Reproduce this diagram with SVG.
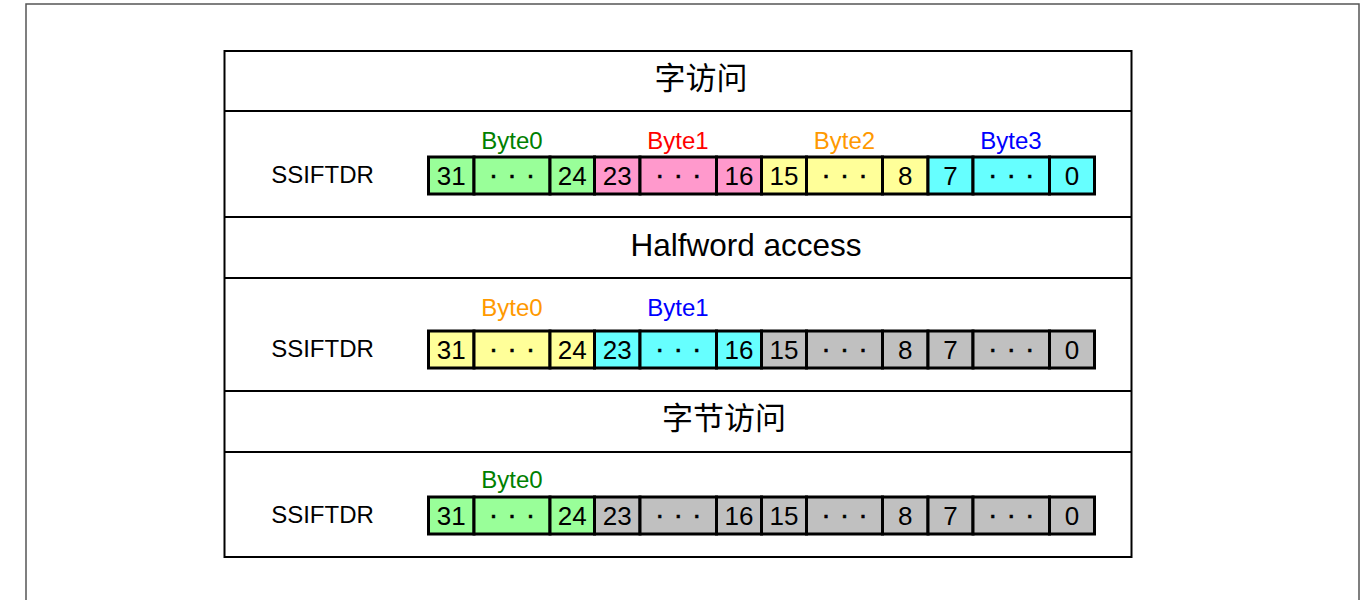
<svg xmlns="http://www.w3.org/2000/svg" width="1370" height="600" viewBox="0 0 1370 600">
<style>
text{font-family:"Liberation Sans",Arial,"Noto Sans CJK SC",sans-serif;text-anchor:middle;fill:#000}
.cell{stroke:#000;stroke-width:3}
.num{font-size:26px}
.dots{font-size:27px;letter-spacing:1px;stroke:#000;stroke-width:0.6}
.lbl{font-size:24px}
.reg{font-size:24px}
.title{font-size:31.5px}
.cjk{font-size:31px;font-family:"Noto Sans CJK SC","Liberation Sans",sans-serif}
.g{fill:#99FF99}.p{fill:#FF99CC}.y{fill:#FFFF99}.c{fill:#66FFFF}.k{fill:#C0C0C0}
</style>
<rect x="26" y="4" width="1333" height="620" fill="#fff" stroke="#555" stroke-width="1.5"/>
<g id="table">
<rect x="224.5" y="51" width="907" height="506" fill="none" stroke="#000" stroke-width="2"/>
<g stroke="#000" stroke-width="2">
<line x1="224.5" y1="111" x2="1131.5" y2="111"/>
<line x1="224.5" y1="217" x2="1131.5" y2="217"/>
<line x1="224.5" y1="278" x2="1131.5" y2="278"/>
<line x1="224.5" y1="391" x2="1131.5" y2="391"/>
<line x1="224.5" y1="452" x2="1131.5" y2="452"/>
</g>
</g>
<g id="title1"><text class="cjk" x="701" y="89">字访问</text></g>
<g id="title2"><text class="title" x="746" y="256">Halfword access</text></g>
<g id="title3"><text class="cjk" x="724" y="429">字节访问</text></g>

<g id="row1">
<text class="reg" x="322.5" y="183">SSIFTDR</text>
<text class="lbl" x="512" y="149" style="fill:#008000">Byte0</text>
<text class="lbl" x="678" y="149" style="fill:#FF0000">Byte1</text>
<text class="lbl" x="844.5" y="149" style="fill:#FF9900">Byte2</text>
<text class="lbl" x="1011" y="149" style="fill:#0000FF">Byte3</text>
<rect class="cell g" x="428.5" y="157" width="45.5" height="37"/>
<rect class="cell g" x="474" y="157" width="76" height="37"/>
<rect class="cell g" x="550" y="157" width="44.5" height="37"/>
<rect class="cell p" x="594.5" y="157" width="45.5" height="37"/>
<rect class="cell p" x="640" y="157" width="76.5" height="37"/>
<rect class="cell p" x="716.5" y="157" width="45" height="37"/>
<rect class="cell y" x="761.5" y="157" width="45" height="37"/>
<rect class="cell y" x="806.5" y="157" width="76" height="37"/>
<rect class="cell y" x="882.5" y="157" width="45.5" height="37"/>
<rect class="cell c" x="928" y="157" width="45" height="37"/>
<rect class="cell c" x="973" y="157" width="76.5" height="37"/>
<rect class="cell c" x="1049.5" y="157" width="45" height="37"/>
<text class="num" x="451.25" y="185">31</text>
<text class="dots" x="512.5" y="184">· · ·</text>
<text class="num" x="572.25" y="185">24</text>
<text class="num" x="617.25" y="185">23</text>
<text class="dots" x="678.75" y="184">· · ·</text>
<text class="num" x="739" y="185">16</text>
<text class="num" x="784" y="185">15</text>
<text class="dots" x="845" y="184">· · ·</text>
<text class="num" x="905.25" y="185">8</text>
<text class="num" x="950.5" y="185">7</text>
<text class="dots" x="1011.75" y="184">· · ·</text>
<text class="num" x="1072" y="185">0</text>
</g>

<g id="row2">
<text class="reg" x="322.5" y="357">SSIFTDR</text>
<text class="lbl" x="512" y="316" style="fill:#FF9900">Byte0</text>
<text class="lbl" x="678" y="316" style="fill:#0000FF">Byte1</text>
<rect class="cell y" x="428.5" y="331" width="45.5" height="37"/>
<rect class="cell y" x="474" y="331" width="76" height="37"/>
<rect class="cell y" x="550" y="331" width="44.5" height="37"/>
<rect class="cell c" x="594.5" y="331" width="45.5" height="37"/>
<rect class="cell c" x="640" y="331" width="76.5" height="37"/>
<rect class="cell c" x="716.5" y="331" width="45" height="37"/>
<rect class="cell k" x="761.5" y="331" width="45" height="37"/>
<rect class="cell k" x="806.5" y="331" width="76" height="37"/>
<rect class="cell k" x="882.5" y="331" width="45.5" height="37"/>
<rect class="cell k" x="928" y="331" width="45" height="37"/>
<rect class="cell k" x="973" y="331" width="76.5" height="37"/>
<rect class="cell k" x="1049.5" y="331" width="45" height="37"/>
<text class="num" x="451.25" y="359">31</text>
<text class="dots" x="512.5" y="358">· · ·</text>
<text class="num" x="572.25" y="359">24</text>
<text class="num" x="617.25" y="359">23</text>
<text class="dots" x="678.75" y="358">· · ·</text>
<text class="num" x="739" y="359">16</text>
<text class="num" x="784" y="359">15</text>
<text class="dots" x="845" y="358">· · ·</text>
<text class="num" x="905.25" y="359">8</text>
<text class="num" x="950.5" y="359">7</text>
<text class="dots" x="1011.75" y="358">· · ·</text>
<text class="num" x="1072" y="359">0</text>
</g>

<g id="row3">
<text class="reg" x="322.5" y="523">SSIFTDR</text>
<text class="lbl" x="512" y="488" style="fill:#008000">Byte0</text>
<rect class="cell g" x="428.5" y="497" width="45.5" height="37"/>
<rect class="cell g" x="474" y="497" width="76" height="37"/>
<rect class="cell g" x="550" y="497" width="44.5" height="37"/>
<rect class="cell k" x="594.5" y="497" width="45.5" height="37"/>
<rect class="cell k" x="640" y="497" width="76.5" height="37"/>
<rect class="cell k" x="716.5" y="497" width="45" height="37"/>
<rect class="cell k" x="761.5" y="497" width="45" height="37"/>
<rect class="cell k" x="806.5" y="497" width="76" height="37"/>
<rect class="cell k" x="882.5" y="497" width="45.5" height="37"/>
<rect class="cell k" x="928" y="497" width="45" height="37"/>
<rect class="cell k" x="973" y="497" width="76.5" height="37"/>
<rect class="cell k" x="1049.5" y="497" width="45" height="37"/>
<text class="num" x="451.25" y="525">31</text>
<text class="dots" x="512.5" y="524">· · ·</text>
<text class="num" x="572.25" y="525">24</text>
<text class="num" x="617.25" y="525">23</text>
<text class="dots" x="678.75" y="524">· · ·</text>
<text class="num" x="739" y="525">16</text>
<text class="num" x="784" y="525">15</text>
<text class="dots" x="845" y="524">· · ·</text>
<text class="num" x="905.25" y="525">8</text>
<text class="num" x="950.5" y="525">7</text>
<text class="dots" x="1011.75" y="524">· · ·</text>
<text class="num" x="1072" y="525">0</text>
</g>
</svg>
